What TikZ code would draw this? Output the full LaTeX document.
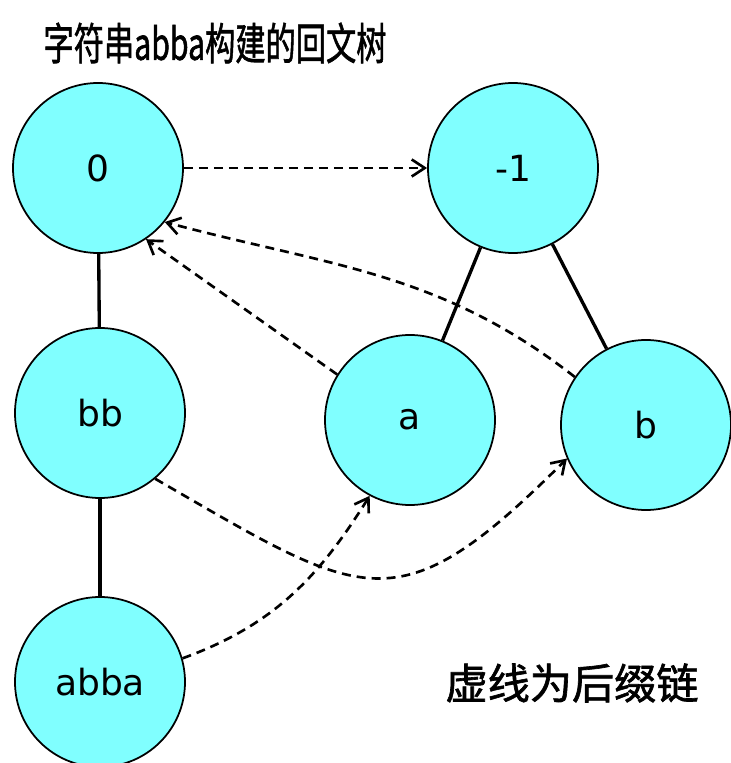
\documentclass[tikz,border=0pt]{standalone}
\usepackage{fontspec}
\setsansfont{DejaVu Sans}
\newfontfamily\cjk[AutoFakeBold=1.5]{Noto Sans CJK SC}
\usepackage{xcolor}
\definecolor{palfill}{RGB}{128,255,255}
\usetikzlibrary{arrows.meta}

\begin{document}
\begin{tikzpicture}[
  state/.style={circle, draw=black, line width=1pt, fill=palfill,
    minimum size=3.4cm, inner sep=0pt, font=\sffamily\fontsize{20.5}{24}\selectfont},
  tree edge/.style={line width=1.9pt},
  suffix link/.style={line width=1.5pt, dash pattern=on 0.18cm off 0.12cm,
    -{Straight Barb[length=2.6mm, width=3.4mm]}},
]
\useasboundingbox (0,0) rectangle (14.62,15.26);

% Title
\node[font=\cjk\bfseries\fontsize{20}{24}\selectfont] (title) at (4.30,14.40)
  {\scalebox{0.86}[1.25]{字符串abba构建的回文树}};

% States of the palindromic tree
\node[state] (zero)  at (1.96, 11.90) {0};
\node[state] (minus) at (10.26, 11.90) {-1};
\node[state] (bb)    at (2.00, 7.00) {bb};
\node[state] (a)     at (8.20, 6.86) {a};
\node[state] (b)     at (12.92, 6.76) {b};
\node[state] (abba)  at (2.00, 1.62) {abba};

% Tree edges
\draw[tree edge] (zero) -- (bb);
\draw[tree edge] (bb) -- (abba);
\draw[tree edge] (minus) -- (a);
\draw[tree edge] (minus) -- (b);

% Suffix links (dashed)
\draw[suffix link] (zero) -- (minus);
\draw[suffix link] (a.148) -- (zero.-56);
\draw[suffix link] (b.146) to[out=142, in=-15] (zero.-39);
\draw[suffix link] (bb.-50) to[out=-30, in=-135, looseness=1.5] (b.-157);
\draw[suffix link] (abba.16) to[out=20, in=-122] (a.-118);

% Note
\node[font=\cjk\bfseries\fontsize{24}{28}\selectfont] (note) at (11.44, 1.60)
  {虚线为后缀链};

\end{tikzpicture}
\end{document}
